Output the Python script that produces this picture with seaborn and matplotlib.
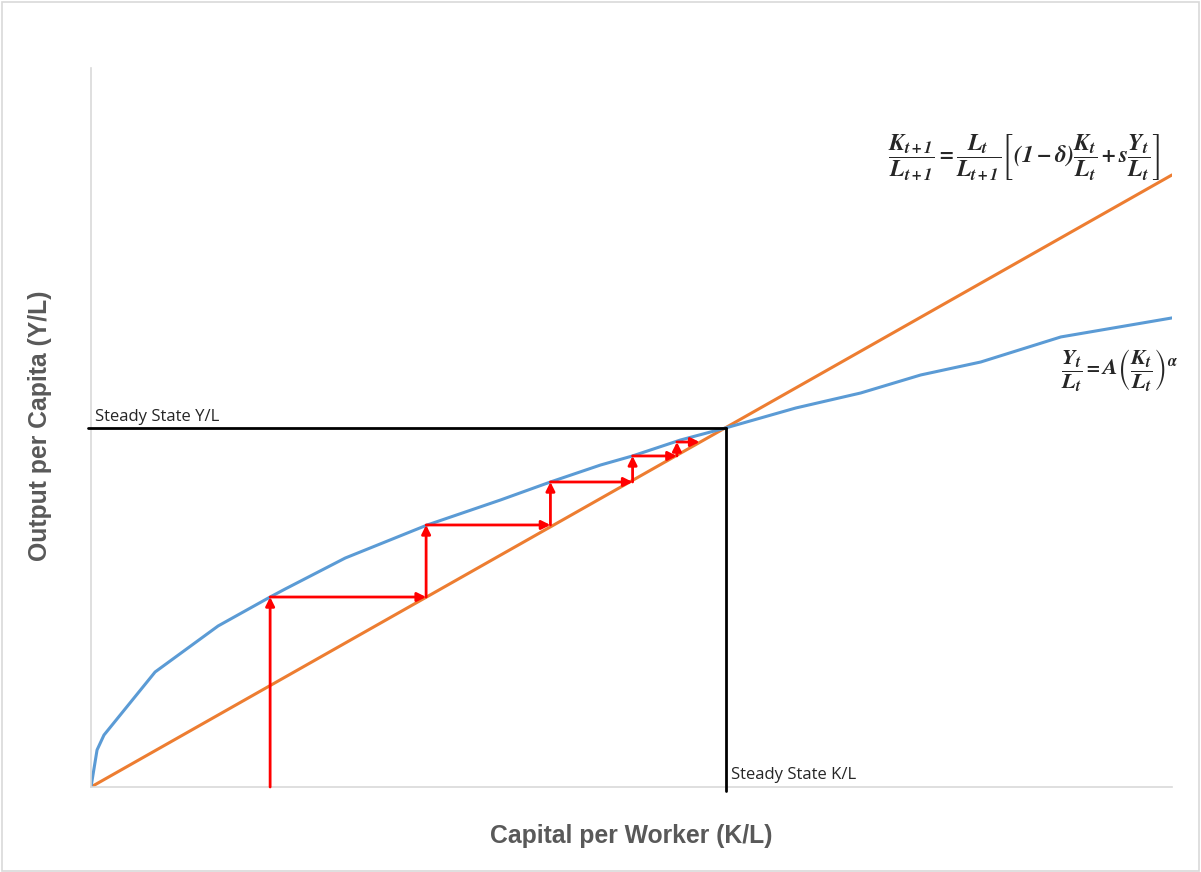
import matplotlib
matplotlib.use("Agg")
import matplotlib.pyplot as plt
from matplotlib.patches import Rectangle
import seaborn as sns
import pandas as pd

# Production function y = f(k), read as a piecewise curve
capital = [0.0, 0.56, 1.2, 5.93, 11.76, 16.57, 17.96, 23.52, 31.11, 37.87,
           42.5, 47.13, 50.09, 54.54, 58.7, 65.19, 71.2, 76.76, 82.31, 89.72, 100.0]
output = [0.0, 3.43, 4.81, 10.65, 14.91, 17.59, 18.33, 21.20, 24.26, 26.57,
          28.24, 29.81, 30.65, 32.13, 33.24, 35.09, 36.48, 38.15, 39.35, 41.67, 43.43]

# Capital accumulation line (straight through origin)
accum_k = [0.0, 100.0]
accum_y = [0.0, 56.67]

# Steady state
ss_k = 58.7
ss_y = 33.24

# Convergence staircase: capital levels and the output reached at each
stair_k = [16.57, 31.0, 42.5, 50.1, 54.2, 56.3]
stair_y = [17.59, 24.26, 28.24, 30.65, 31.94]

sns.set_style("white")
plt.rcParams["font.family"] = ["Liberation Sans", "DejaVu Sans"]
plt.rcParams["mathtext.fontset"] = "stix"

fig = plt.figure(figsize=(12.01, 8.72), dpi=100)
ax = fig.add_axes([91 / 1201, 85 / 872, (1172 - 91) / 1201, (787 - 68) / 872])

prod = pd.DataFrame({"k": capital, "y": output})
acc = pd.DataFrame({"k": accum_k, "y": accum_y})
sns.lineplot(data=acc, x="k", y="y", ax=ax, color="#ED7D31", lw=2.2, sort=False)
sns.lineplot(data=prod, x="k", y="y", ax=ax, color="#5B9BD5", lw=2.2, sort=False)

ax.set_xlim(0, 100)
ax.set_ylim(0, 66.57)

# Steady-state reference lines
ax.plot([-0.3, ss_k], [ss_y, ss_y], color="black", lw=2, clip_on=False, zorder=4)
ax.plot([ss_k, ss_k], [ss_y, -0.4], color="black", lw=2, clip_on=False, zorder=4)
ax.text(0.4, ss_y + 0.3, "Steady State Y/L", fontsize=12, family="Open Sans",
        ha="left", va="bottom")
ax.text(ss_k + 0.55, 0.4, "Steady State K/L", fontsize=12, family="Open Sans",
        ha="left", va="bottom")

# Red staircase arrows
arrow_kw = dict(arrowstyle="-|>", color="#FF0000", lw=2, mutation_scale=13,
                shrinkA=0, shrinkB=0)
prev = 0.0
for i, yv in enumerate(stair_y):
    k = stair_k[i]
    ax.annotate("", xy=(k, yv), xytext=(k, prev), arrowprops=arrow_kw, zorder=5)
    ax.annotate("", xy=(stair_k[i + 1], yv), xytext=(k, yv), arrowprops=arrow_kw, zorder=5)
    prev = yv

# Equations
ax.text(86.3, 58.3,
        r"$\mathbfit{\dfrac{K_{t+1}}{L_{t+1}} = \dfrac{L_t}{L_{t+1}}\left[(1-\delta)\dfrac{K_t}{L_t} + s\dfrac{Y_t}{L_t}\right]}$",
        fontsize=17, ha="center", va="center")
ax.text(95.1, 38.6,
        r"$\mathbfit{\dfrac{Y_t}{L_t} = A\left(\dfrac{K_t}{L_t}\right)^{\alpha}}$",
        fontsize=16, ha="center", va="center")

# Axes styling
for side in ["top", "right"]:
    ax.spines[side].set_visible(False)
for side in ["left", "bottom"]:
    ax.spines[side].set_color("#D9D9D9")
    ax.spines[side].set_linewidth(1.2)
ax.set_xticks([])
ax.set_yticks([])
ax.set_xlabel("")
ax.set_ylabel("")

fig.text(631 / 1201, 1 - 836 / 872, "Capital per Worker (K/L)", fontsize=17.8,
         fontweight="bold", color="#595959", ha="center", va="center")
fig.text(40 / 1201, 1 - 426 / 872, "Output per Capita (Y/L)", fontsize=17.8,
         fontweight="bold", color="#595959", ha="center", va="center", rotation=90)

# Light frame around the whole figure
fig.patches.append(Rectangle((0.002, 0.001), 0.996, 0.997, transform=fig.transFigure,
                             fill=False, edgecolor="#D9D9D9", lw=1.2))

fig.savefig("out.png", dpi=100)
